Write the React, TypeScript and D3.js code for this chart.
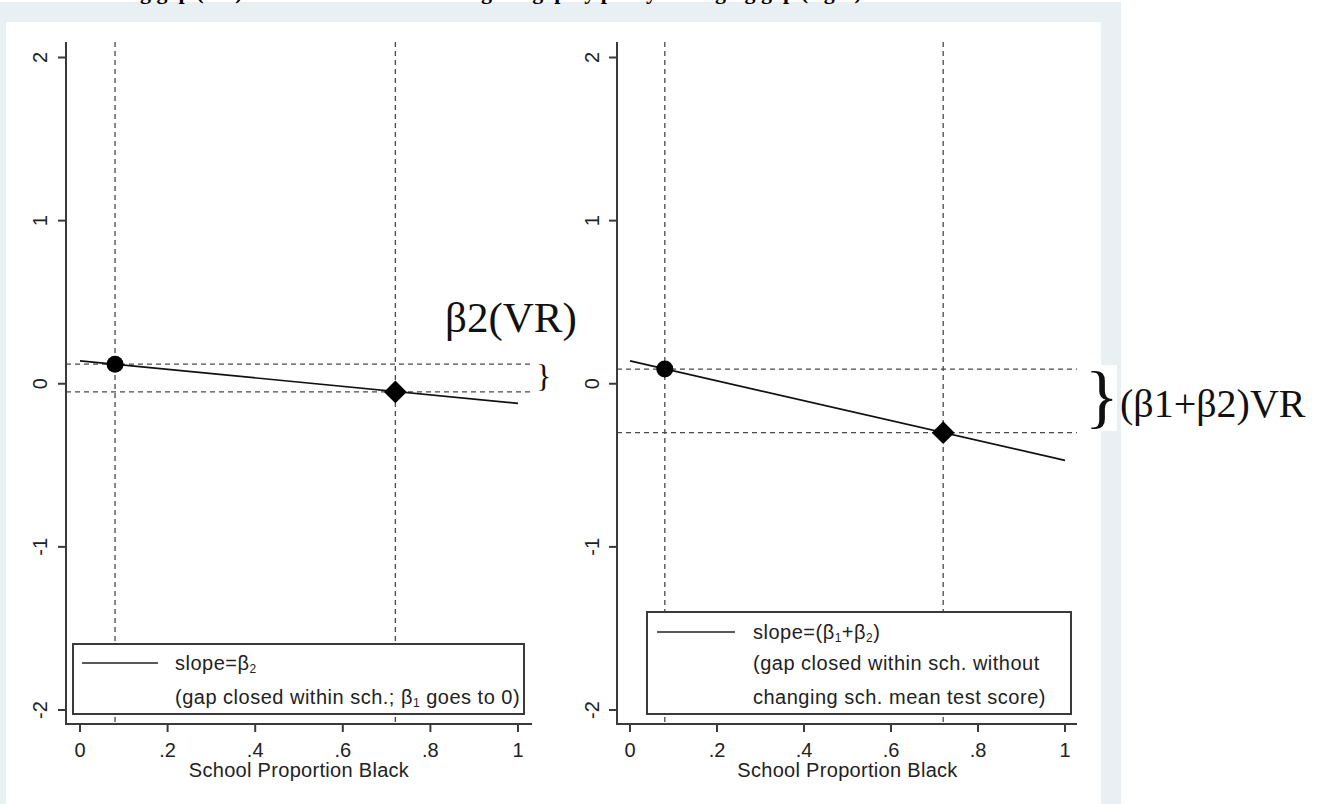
import React from 'react';
import * as d3 from 'd3';

// fitted lines (x = school proportion black)
const lineX = [0, 1];
const leftLineY = [0.14, -0.12];
const rightLineY = [0.14, -0.47];

// the two schools marked on each line
const markerX = [0.08, 0.72];
const leftMarkerY = [0.12, -0.05];
const rightMarkerY = [0.09, -0.3];

const xTicks = [0, 0.2, 0.4, 0.6, 0.8, 1];
const xTickLabels = ['0', '.2', '.4', '.6', '.8', '1'];
const yTicks = [-2, -1, 0, 1, 2];
const yTickLabels = ['-2', '-1', '0', '1', '2'];

const xTitle = 'School Proportion Black';
// "_1" marks a subscript
const leftLegend = ['slope=β_2', '(gap closed within sch.; β_1 goes to 0)'];
const rightLegend = ['slope=(β_1+β_2)', '(gap closed within sch. without', 'changing sch. mean test score)'];
const leftNote = 'β2(VR)';
const rightNote = '(β1+β2)VR';
const topTitle = 'Closing gap (VR) within schools and closing the gap by policy: changing gap (right)';

const sans = '"Liberation Sans", Arial, sans-serif';
const serif = '"Liberation Serif", "Times New Roman", serif';
const axisColor = '#3a3a3a';
const dashColor = '#4a4a4a';

const y = d3.scaleLinear().domain([-2, 2]).range([710, 57.5]);

const richText = (s: string) => {
  const parts = s.split(/(_\d)/).filter(p => p);
  return parts.map((p, i) =>
    p.startsWith('_')
      ? <tspan key={i} fontSize={12} dy={3}>{p.slice(1)}</tspan>
      : <tspan key={i} dy={i > 0 && parts[i - 1].startsWith('_') ? -3 : 0}>{p}</tspan>
  );
};

type PanelProps = {
  x: d3.ScaleLinear<number, number>;
  left: number;
  right: number;
  lineY: number[];
  markY: number[];
  legend: string[];
  legendBox: { x: number; y: number; w: number; h: number };
  legendLine: { x1: number; x2: number; y: number };
  legendTextX: number;
  legendTextY: number[];
  labelX: number;
};

const Panel = ({ x, left, right, lineY, markY, legend, legendBox, legendLine, legendTextX, legendTextY, labelX }: PanelProps) => {
  const top = 42;
  const bottom = 724;
  const line = d3.line<number>().x((d, i) => x(lineX[i])).y(d => y(d));
  const diamond = d3.symbol().type(d3.symbolDiamond2).size(330)();
  const centerX = (x(0) + x(1)) / 2;

  return (
    <g>
      {/* reference lines */}
      {markerX.map((m, i) => (
        <line key={'v' + i} x1={x(m)} x2={x(m)} y1={top} y2={bottom}
          stroke={dashColor} strokeWidth={1.3} strokeDasharray="5,4" />
      ))}
      {markY.map((m, i) => (
        <line key={'h' + i} x1={left} x2={right} y1={y(m)} y2={y(m)}
          stroke={dashColor} strokeWidth={1.3} strokeDasharray="5,4" />
      ))}

      {/* fitted line */}
      <path d={line(lineY) || ''} fill="none" stroke="#111" strokeWidth={1.7} />
      <circle cx={x(markerX[0])} cy={y(markY[0])} r={8.5} fill="#000" />
      <path d={diamond || ''} transform={`translate(${x(markerX[1])},${y(markY[1])})`} fill="#000" />

      {/* legend */}
      <rect x={legendBox.x} y={legendBox.y} width={legendBox.w} height={legendBox.h}
        fill="#fff" stroke={axisColor} strokeWidth={2} />
      <line x1={legendLine.x1} x2={legendLine.x2} y1={legendLine.y} y2={legendLine.y} stroke="#222" strokeWidth={1.6} />
      {legend.map((t, i) => (
        <text key={'l' + i} x={legendTextX} y={legendTextY[i]} fontFamily={sans} fontSize={20}
          letterSpacing={0.5} fill="#222">{richText(t)}</text>
      ))}

      {/* y axis */}
      <line x1={left} x2={left} y1={top} y2={bottom + 1} stroke={axisColor} strokeWidth={2} />
      {yTicks.map((t, i) => (
        <g key={'y' + i}>
          <line x1={left - 8} x2={left} y1={y(t)} y2={y(t)} stroke={axisColor} strokeWidth={2} />
          <text transform={`translate(${labelX},${y(t)}) rotate(-90)`} textAnchor="middle"
            fontFamily={sans} fontSize={20} fill="#222">{yTickLabels[i]}</text>
        </g>
      ))}

      {/* x axis */}
      <line x1={left - 1} x2={right} y1={bottom} y2={bottom} stroke={axisColor} strokeWidth={2} />
      {xTicks.map((t, i) => (
        <g key={'x' + i}>
          <line x1={x(t)} x2={x(t)} y1={bottom} y2={bottom + 8} stroke={axisColor} strokeWidth={2} />
          <text x={x(t)} y={757} textAnchor="middle" fontFamily={sans} fontSize={20} fill="#222">{xTickLabels[i]}</text>
        </g>
      ))}
      <text x={centerX} y={777} textAnchor="middle" fontFamily={sans} fontSize={20} letterSpacing={0.3} fill="#222">{xTitle}</text>
    </g>
  );
};

export default function App() {
  const xLeft = d3.scaleLinear().domain([0, 1]).range([80, 518]);
  const xRight = d3.scaleLinear().domain([0, 1]).range([630, 1065]);

  return (
    <div style={{ position: 'fixed', left: 0, top: 0, width: 1330, height: 804, background: '#fff' }}>
      <svg width={1330} height={804} style={{ display: 'block' }}>
        <rect x={0} y={2} width={1121} height={802} fill="#e9f0f3" />
        <rect x={6} y={22} width={1095} height={782} fill="#fff" />
        {/* page title above the figure, cut off by the crop */}
        <text x={80} y={-1} fontFamily={serif} fontWeight="bold" fontSize={22} fill="#000">{topTitle}</text>

        <Panel x={xLeft} left={66} right={532} lineY={leftLineY} markY={leftMarkerY} legend={leftLegend}
          legendBox={{ x: 73, y: 644, w: 451, h: 70 }} legendLine={{ x1: 82, x2: 158, y: 663 }}
          legendTextX={175} legendTextY={[670, 704]} labelX={47} />
        <Panel x={xRight} left={617} right={1077} lineY={rightLineY} markY={rightMarkerY} legend={rightLegend}
          legendBox={{ x: 647, y: 612, w: 424, h: 102 }} legendLine={{ x1: 657, x2: 735, y: 632 }}
          legendTextX={753} legendTextY={[639, 670, 704]} labelX={599} />

        {/* annotations */}
        <text x={445} y={332} fontFamily={serif} fontSize={43} fill="#111">{leftNote}</text>
        <text x={536} y={387} fontFamily={serif} fontSize={32} fill="#111">{'}'}</text>
        <rect x={1100} y={365} width={17} height={66} fill="#fff" />
        <text x={1085} y={420} fontFamily={serif} fontSize={70} fill="#111">{'}'}</text>
        <text x={1120} y={417} fontFamily={serif} fontSize={40} fill="#111">{rightNote}</text>
      </svg>
    </div>
  );
}
